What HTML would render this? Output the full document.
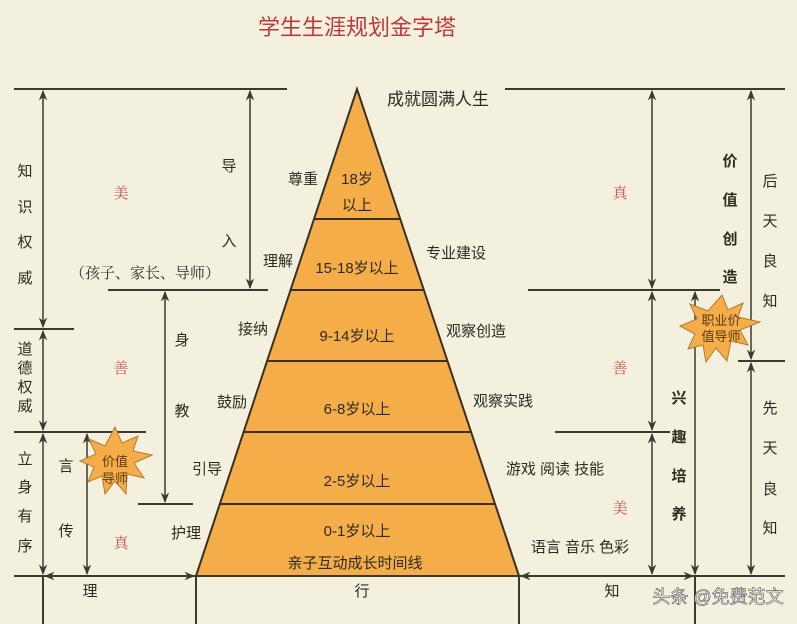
<!DOCTYPE html>
<html><head><meta charset="utf-8"><style>
html,body{margin:0;padding:0;background:#f3f0dd;}
svg{display:block;}
text{font-family:"Liberation Sans","Noto Sans CJK SC",sans-serif;fill:#2b2b22;}
.c{text-anchor:middle;}
.r{fill:#c0504d;font-family:"Liberation Serif","Noto Serif CJK SC",serif;}
.b{font-weight:bold;}
</style></head><body>
<svg width="797" height="624" viewBox="0 0 797 624" xmlns="http://www.w3.org/2000/svg">
<defs>
<marker id="a" viewBox="0 0 10 10" refX="9" refY="5" markerWidth="7" markerHeight="7" orient="auto-start-reverse"><path d="M0,1 L10,5 L0,9 L3,5z" fill="#3a3a2e"/></marker>
</defs>
<rect width="797" height="624" fill="#f3f0dd"/>
<text x="357" y="35" class="c" style="font-size:22px;fill:#c0393b">学生生涯规划金字塔</text>

<polygon points="357,89 196,576 519,576" fill="#f5ad4a" stroke="#3a3020" stroke-width="2"/>
<g stroke="#3a3020" stroke-width="2">
<line x1="314" y1="219" x2="400" y2="219"/>
<line x1="290" y1="290" x2="424" y2="290"/>
<line x1="267" y1="361" x2="447" y2="361"/>
<line x1="243" y1="432" x2="471" y2="432"/>
<line x1="219" y1="504" x2="495" y2="504"/>
</g>

<g stroke="#3a3a2e" stroke-width="2" fill="none">
<line x1="14" y1="89" x2="287" y2="89"/>
<line x1="505" y1="89" x2="785" y2="89"/>
<line x1="14" y1="329" x2="74" y2="329"/>
<line x1="14" y1="432" x2="146" y2="432"/>
<line x1="108" y1="290" x2="268" y2="290"/>
<line x1="138" y1="504" x2="193" y2="504"/>
<line x1="14" y1="576" x2="785" y2="576"/>
<line x1="528" y1="290" x2="720" y2="290"/>
<line x1="555" y1="432" x2="670" y2="432"/>
<line x1="738" y1="361" x2="785" y2="361"/>
<line x1="43" y1="576" x2="43" y2="624"/>
<line x1="196" y1="576" x2="196" y2="624"/>
<line x1="519" y1="576" x2="519" y2="624"/>
<line x1="695" y1="576" x2="695" y2="624"/>
</g>
<g stroke="#3a3a2e" stroke-width="1.5" marker-start="url(#a)" marker-end="url(#a)">
<line x1="43" y1="91" x2="43" y2="327"/>
<line x1="43" y1="331" x2="43" y2="430"/>
<line x1="43" y1="434" x2="43" y2="574"/>
<line x1="87" y1="434" x2="87" y2="574"/>
<line x1="250" y1="91" x2="250" y2="288"/>
<line x1="165" y1="292" x2="165" y2="502"/>
<line x1="45" y1="576" x2="194" y2="576"/>
<line x1="652" y1="91" x2="652" y2="288"/>
<line x1="652" y1="292" x2="652" y2="430"/>
<line x1="652" y1="434" x2="652" y2="574"/>
<line x1="695" y1="292" x2="695" y2="574"/>
<line x1="751" y1="91" x2="751" y2="359"/>
<line x1="751" y1="363" x2="751" y2="574"/>
<line x1="521" y1="576" x2="693" y2="576"/>
</g>

<polygon points="115,427 122,443 138,436 133,451 152,455 134,463 144,478 127,474 126,494 115,481 105,494 102,476 88,482 94,467 80,461 96,454 89,439 105,446" fill="#f5ad4a" stroke="#b07a30" stroke-width="1"/>
<text x="115" y="466" class="c" style="font-size:13px;fill:#5a3a10">价值</text>
<text x="115" y="483" class="c" style="font-size:13px;fill:#5a3a10">导师</text>
<polygon points="722,295 728,310 743,303 738,317 760,322 740,330 748,345 731,341 727,361 716,348 706,362 703,345 688,349 695,334 680,326 697,319 690,304 708,311" fill="#f5ad4a" stroke="#b07a30" stroke-width="1"/>
<text x="721" y="325" class="c" style="font-size:13px;fill:#5a3a10">职业价</text>
<text x="721" y="341" class="c" style="font-size:13px;fill:#5a3a10">值导师</text>

<g style="font-size:15px" class="c">
<text x="438" y="105" class="c" style="font-size:17px">成就圆满人生</text>
<text x="357" y="184">18岁</text><text x="357" y="210">以上</text>
<text x="357" y="273">15-18岁以上</text>
<text x="357" y="341">9-14岁以上</text>
<text x="357" y="414">6-8岁以上</text>
<text x="357" y="486">2-5岁以上</text>
<text x="357" y="536">0-1岁以上</text>
<text x="355" y="568">亲子互动成长时间线</text>
<text x="303" y="184">尊重</text><text x="278" y="266">理解</text>
<text x="253" y="334">接纳</text><text x="232" y="407">鼓励</text>
<text x="207" y="474">引导</text><text x="186" y="538">护理</text>
<text x="456" y="258">专业建设</text><text x="476" y="336">观察创造</text>
<text x="503" y="406">观察实践</text>
<text x="555" y="474">游戏 阅读 技能</text>
<text x="580" y="552">语言 音乐 色彩</text>

<text x="25" y="176">知</text><text x="25" y="212">识</text><text x="25" y="247">权</text><text x="25" y="283">威</text>
<text x="25" y="354">道</text><text x="25" y="373">德</text><text x="25" y="392">权</text><text x="25" y="411">威</text>
<text x="25" y="464">立</text><text x="25" y="492">身</text><text x="25" y="521">有</text><text x="25" y="551">序</text>
<text x="229" y="171">导</text><text x="229" y="246">入</text>
<text x="182" y="345">身</text><text x="182" y="416">教</text>
<text x="66" y="471">言</text><text x="66" y="536">传</text>
<text x="145" y="278" style="font-family:'Liberation Serif','Noto Serif CJK SC',serif">（孩子、家长、导师）</text>
<text x="90" y="596">理</text><text x="362" y="596">行</text><text x="612" y="596">知</text>

<text x="770" y="186">后</text><text x="770" y="226">天</text><text x="770" y="266">良</text><text x="770" y="306">知</text>
<text x="770" y="413">先</text><text x="770" y="453">天</text><text x="770" y="494">良</text><text x="770" y="533">知</text>
<text x="730" y="166" class="b">价</text><text x="730" y="205" class="b">值</text><text x="730" y="244" class="b">创</text><text x="730" y="282" class="b">造</text>
<text x="679" y="403" class="b">兴</text><text x="679" y="442" class="b">趣</text><text x="679" y="481" class="b">培</text><text x="679" y="519" class="b">养</text>

<text x="121" y="198" class="r">美</text><text x="121" y="373" class="r">善</text><text x="121" y="548" class="r">真</text>
<text x="620" y="198" class="r">真</text><text x="620" y="373" class="r">善</text><text x="620" y="513" class="r">美</text>
</g>
<text x="718" y="603" class="c" style="font-size:18px;fill:#ffffff;stroke:#555;stroke-width:0.6">头条 @免费范文</text>
</svg>
</body></html>
